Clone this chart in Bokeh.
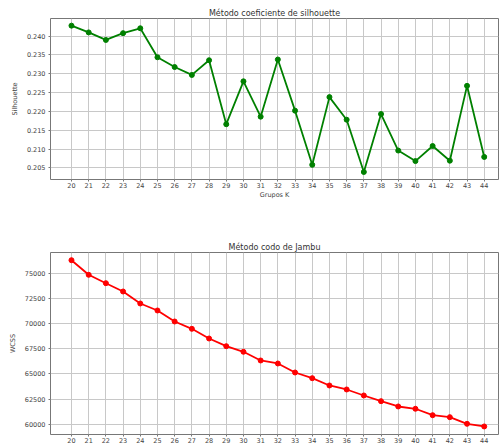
from bokeh.plotting import figure
from bokeh.layouts import column
from bokeh.models import FixedTicker, NumeralTickFormatter, Range1d
from bokeh.embed import file_html
from bokeh.resources import INLINE

k_values = list(range(20, 45))
silhouette = [0.2428, 0.2410, 0.2390, 0.2408, 0.2421, 0.2344, 0.2318, 0.2297, 0.2336,
              0.2166, 0.2280, 0.2186, 0.2338, 0.2202, 0.2058, 0.2238, 0.2178, 0.2039,
              0.2193, 0.2096, 0.2068, 0.2108, 0.2069, 0.2268, 0.2079]
wcss = [76291, 74841, 74007, 73182, 71990, 71295, 70203, 69475, 68514, 67749, 67193,
        66329, 66031, 65137, 64571, 63846, 63449, 62853, 62287, 61760, 61532, 60896,
        60697, 60040, 59775]
sil_ticks = [0.205, 0.210, 0.215, 0.220, 0.225, 0.230, 0.235, 0.240]
wcss_ticks = [60000, 62500, 65000, 67500, 70000, 72500, 75000]

title1 = "Método coeficiente de silhouette"
title2 = "Método codo de Jambu"
xlabel = "Grupos K"
ylabel1 = "Silhouette"
ylabel2 = "WCSS"

FONT = "DejaVu Sans"


def style(p, yticks, fmt):
    p.title.text_font = FONT
    p.title.text_font_size = "8px"
    p.title.text_font_style = "normal"
    p.title.text_color = "#333333"
    p.title.align = "center"
    p.title.standoff = 2
    p.outline_line_color = "#777777"
    p.outline_line_width = 1
    p.xaxis.ticker = FixedTicker(ticks=k_values)
    p.yaxis.ticker = FixedTicker(ticks=yticks)
    p.yaxis.formatter = NumeralTickFormatter(format=fmt)
    for ax in (p.xaxis, p.yaxis):
        ax.axis_line_color = None
        ax.major_tick_line_color = "#777777"
        ax.major_tick_out = 2
        ax.major_tick_in = 0
        ax.minor_tick_line_color = None
        ax.major_label_text_font = FONT
        ax.major_label_text_font_size = "6.5px"
        ax.major_label_text_color = "#444444"
        ax.major_label_standoff = 3
        ax.axis_label_text_font = FONT
        ax.axis_label_text_font_size = "6.5px"
        ax.axis_label_text_font_style = "normal"
        ax.axis_label_text_color = "#444444"
        ax.axis_label_standoff = 5
    p.xaxis.major_label_standoff = 1
    p.xaxis.axis_label_standoff = 0
    p.grid.grid_line_color = "#c8c8c8"
    p.grid.grid_line_width = 1
    p.background_fill_color = "white"
    p.border_fill_color = "white"


p1 = figure(width=499, height=201, output_backend="svg", toolbar_location=None,
            title=title1, x_range=Range1d(18.78, 44.83), y_range=Range1d(0.2019, 0.2447),
            min_border_left=50, min_border_right=1, min_border_top=18, min_border_bottom=0)
style(p1, sil_ticks, "0.000")
p1.xaxis.axis_label = xlabel
p1.yaxis.axis_label = ylabel1
p1.line(k_values, silhouette, line_color="green", line_width=1.8)
p1.scatter(k_values, silhouette, marker="circle", size=5, fill_color="green", line_color="green")

p2 = figure(width=499, height=244, output_backend="svg", toolbar_location=None,
            title=title2, x_range=Range1d(18.78, 44.83), y_range=Range1d(58977, 77056),
            min_border_left=50, min_border_right=1, min_border_top=51, min_border_bottom=0)
style(p2, wcss_ticks, "0")
p2.yaxis.axis_label = ylabel2
p2.line(k_values, wcss, line_color="red", line_width=1.8)
p2.scatter(k_values, wcss, marker="circle", size=5, fill_color="red", line_color="red")

layout = column(p1, p2, spacing=0)
open("out.html", "w").write(file_html(layout, INLINE))
